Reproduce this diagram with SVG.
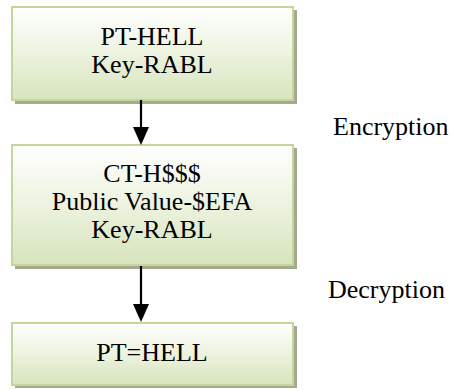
<svg xmlns="http://www.w3.org/2000/svg" width="453" height="390" viewBox="0 0 453 390">
<defs>
<linearGradient id="g" x1="0" y1="0" x2="0" y2="1">
<stop offset="0" stop-color="#ffffff"/>
<stop offset="0.45" stop-color="#eef4e2"/>
<stop offset="1" stop-color="#d7e4bd"/>
</linearGradient>
</defs>
<style>
.shadow{fill:#a5a98f;}
.box{fill:url(#g);stroke:#c3d69b;stroke-width:2;}
.t{font-family:'Liberation Serif','Times New Roman','DejaVu Serif',serif;font-size:26px;fill:#000;text-anchor:middle;}
.l{font-family:'Liberation Serif','Times New Roman','DejaVu Serif',serif;font-size:26px;fill:#000;}
.c{stroke:#000;stroke-width:2.2;fill:none;}
</style>
<g id="node1">
<rect class="shadow" x="15" y="10" width="282" height="94"/>
<rect class="box" x="12" y="7" width="281" height="93"/>
<text class="t" x="152" y="45" font-family="Liberation Serif, serif">PT-HELL</text>
<text class="t" x="152" y="73" font-family="Liberation Serif, serif">Key-RABL</text>
</g>
<g id="node2">
<rect class="shadow" x="15" y="148" width="282" height="121"/>
<rect class="box" x="12" y="145" width="281" height="120"/>
<text class="t" x="152" y="182" font-family="Liberation Serif, serif">CT-H$$$</text>
<text class="t" x="152" y="210" font-family="Liberation Serif, serif">Public Value-$EFA</text>
<text class="t" x="152" y="238" font-family="Liberation Serif, serif">Key-RABL</text>
</g>
<g id="node3">
<rect class="shadow" x="15" y="326" width="282" height="62"/>
<rect class="box" x="12" y="323" width="281" height="62"/>
<text class="t" x="152" y="361" font-family="Liberation Serif, serif">PT=HELL</text>
</g>
<g id="connectors">
<line class="c" x1="141" y1="100" x2="141" y2="128"/>
<path d="M133,127 L149,127 L141,145 z" fill="#000"/>
<line class="c" x1="141" y1="266" x2="141" y2="305"/>
<path d="M133,304 L149,304 L141,322 z" fill="#000"/>
</g>
<g id="labels">
<text class="l" x="333" y="135" font-family="Liberation Serif, serif">Encryption</text>
<text class="l" x="328" y="298" font-family="Liberation Serif, serif">Decryption</text>
</g>
</svg>
